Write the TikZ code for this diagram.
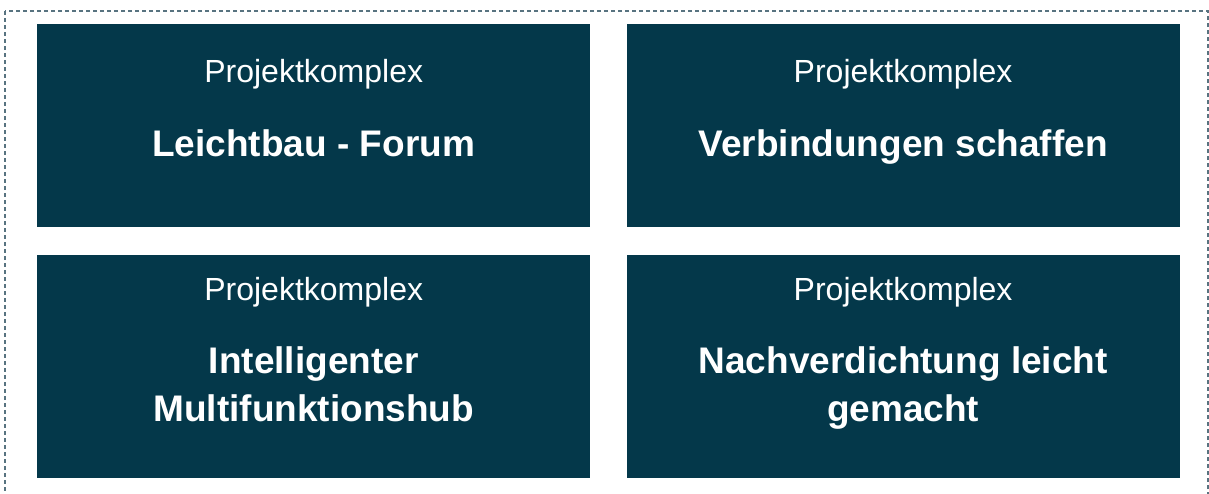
\documentclass[tikz,border=0pt]{standalone}
\usepackage{fontspec}
\setmainfont{Liberation Sans}
\usetikzlibrary{positioning}

\definecolor{petrol}{HTML}{04384A}
\definecolor{framegray}{HTML}{587380}

\tikzset{
  complex/.style={fill=petrol,draw=none,inner sep=0pt,minimum width=553pt},
  kicker/.style={text=white,anchor=base,inner sep=0pt,font=\fontsize{32}{38}\selectfont},
  title/.style={text=white,anchor=base,inner sep=0pt,align=center,
    font=\fontsize{37}{48}\selectfont\bfseries},
}

\begin{document}
\begin{tikzpicture}[x=1pt,y=-1pt]
  \clip (0,0) rectangle (1209,493);
  % outer dashed frame, bottom edge runs off the page
  \draw[framegray,line width=1.3pt,dash pattern=on 4pt off 3pt] (5,11) rectangle (1208,520);

  \node (lb) [complex,minimum height=203pt,anchor=north west] at (37,24) {};
  \node (vb) [complex,minimum height=203pt] [right=36pt of lb] {};
  \node (mh) [complex,minimum height=223pt] [below=27pt of lb] {};
  \node (nv) [complex,minimum height=223pt] [right=36pt of mh] {};

  \node (lbk) [kicker] at ([yshift=-58pt]lb.north) {Projektkomplex};
  \node (lbt) [title] at ([yshift=-132pt]lb.north) {Leichtbau - Forum};
  \node (vbk) [kicker] at ([yshift=-58pt]vb.north) {Projektkomplex};
  \node (vbt) [title] at ([yshift=-132pt]vb.north) {Verbindungen schaffen};

  % two-line titles: base sits on the last line
  \node (mhk) [kicker] at ([yshift=-46pt]mh.north) {Projektkomplex};
  \node (mht) [title] at ([yshift=-167pt]mh.north) {Intelligenter\\Multifunktionshub};
  \node (nvk) [kicker] at ([yshift=-46pt]nv.north) {Projektkomplex};
  \node (nvt) [title] at ([yshift=-167pt]nv.north) {Nachverdichtung leicht\\gemacht};
\end{tikzpicture}
\end{document}
